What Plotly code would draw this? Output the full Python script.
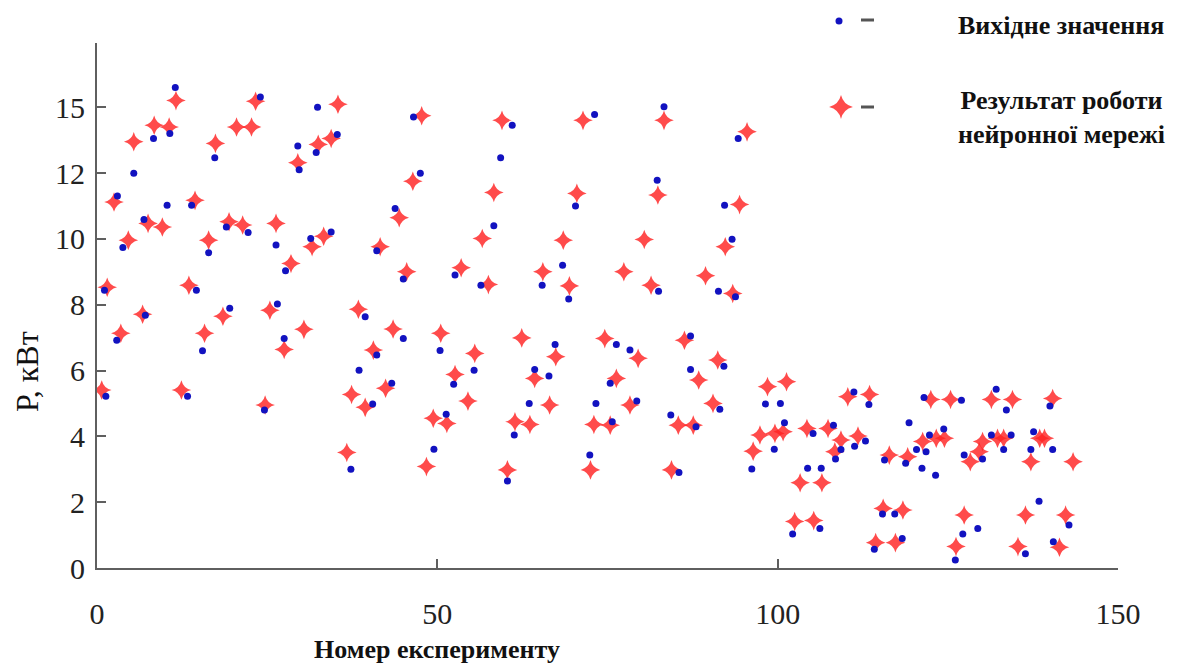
import plotly.graph_objects as go

red_x = [0.7, 1.5, 2.5, 3.5, 4.6, 5.4, 6.7, 7.5, 8.4, 9.6, 10.6, 11.6, 12.4, 13.5, 14.4, 15.8, 16.4, 17.4,
         18.5, 19.4, 20.5, 21.4, 22.7, 23.3, 24.7, 25.4, 26.3, 27.5, 28.5, 29.5, 30.4, 31.6, 32.5, 33.3,
         34.4, 35.4, 36.7, 37.4, 38.4, 39.4, 40.6, 41.6, 42.4, 43.5, 44.4,
         45.5, 46.4, 47.7, 48.4, 49.4, 50.5, 51.4, 52.6, 53.5, 54.5, 55.5, 56.6, 57.5, 58.3, 59.5, 60.3,
         61.4, 62.4, 63.6, 64.3, 65.5, 66.5, 67.4, 68.5, 69.4, 70.5, 71.4, 72.5, 73.0,
         74.6, 75.4, 76.3, 77.4, 78.3, 79.5, 80.4, 81.4, 82.4, 83.3, 84.4, 85.4, 86.3, 87.6, 88.4, 89.4,
         90.5, 91.2, 92.3, 93.4, 94.4, 95.5, 96.4, 97.4,
         98.5, 99.6, 100.8, 101.3, 102.5, 103.3, 104.3, 105.3, 106.5, 107.4, 108.4, 109.3, 110.3, 111.8,
         113.5, 114.4, 115.5, 116.4, 117.3, 118.4, 119.1, 121.3, 122.5, 123.3, 124.5, 125.4, 126.2, 127.4,
         128.3, 129.6, 130.1, 131.4, 132.3, 133.2, 134.5, 135.3, 136.4, 137.2, 138.5, 139.2, 140.4, 141.4,
         142.3, 143.4]
red_y = [5.41, 8.53, 11.12, 7.13, 9.96, 12.95, 7.71, 10.47, 13.45, 10.36, 13.4, 14.2, 5.41, 8.59, 11.17, 7.13,
         9.96, 12.9, 7.65, 10.52, 13.4, 10.42, 13.4, 14.18, 4.95, 7.83, 10.47, 6.64, 9.25, 12.31, 7.25, 9.76,
         12.87, 10.08, 13.05, 14.09, 3.51, 5.27, 7.86, 4.88, 6.62, 9.76, 5.46, 7.26, 10.64,
         9.0, 11.75, 13.74, 3.08, 4.55, 7.13, 4.39, 5.88, 9.12, 5.07, 6.52, 10.01, 8.61, 11.41, 13.6, 2.98,
         4.44, 6.99, 4.36, 5.76, 9.0, 4.95, 6.42, 9.96, 8.57, 11.38, 13.6, 2.98, 4.36,
         6.97, 4.34, 5.76, 9.0, 4.95, 6.37, 9.98, 8.59, 11.33, 13.6, 2.98, 4.34, 6.92, 4.34, 5.71, 8.88,
         5.0, 6.32, 9.76, 8.34, 11.04, 13.25, 3.55, 4.04,
         5.51, 4.09, 4.14, 5.66, 1.41, 2.59, 4.24, 1.44, 2.59, 4.24, 3.53, 3.89, 5.2, 4.01,
         5.27, 0.77, 1.81, 3.43, 0.77, 1.76, 3.38, 3.84, 5.12, 3.94, 3.94, 5.12, 0.65, 1.61,
         3.23, 3.53, 3.84, 5.12, 3.94, 3.94, 5.12, 0.65, 1.61, 3.23, 3.94, 3.94, 5.15, 0.63,
         1.61, 3.23]

blue_x = [1.1, 1.3, 3.0, 2.9, 3.8, 5.4, 7.1, 6.9, 8.3, 10.3, 10.7, 11.5, 13.3, 14.6, 13.9, 15.5, 16.4, 17.3,
          19.5, 19.0, 22.2, 24.0, 24.6, 26.5, 26.3, 27.5, 27.7, 29.5, 29.7, 32.4, 32.2, 31.4, 35.3, 34.4,
          37.3, 38.5, 39.4, 40.5, 41.1, 41.1, 43.3, 43.8,
          45.0, 45.0, 46.5, 47.5, 49.5, 50.4, 51.3, 52.4, 52.6, 55.4, 56.4, 58.3, 59.3, 60.3, 61.0, 61.3,
          63.5, 64.3, 65.4, 66.4, 67.3, 68.4, 69.3, 70.3, 72.4, 73.1, 73.3,
          83.3, 94.2, 82.3, 92.2, 93.3, 82.5, 91.3, 93.8, 76.3, 78.3, 87.2, 92.1, 75.4, 87.2, 79.3, 91.5,
          98.2, 75.7, 84.3, 88.0, 99.5, 96.2, 85.5,
          100.4, 111.2, 113.4, 121.5, 101.0, 119.3, 105.2, 108.2, 109.3, 108.5, 111.3, 112.9, 115.7, 118.8,
          120.4, 121.8, 121.2, 123.2, 122.3, 104.4, 106.4, 117.2, 115.4, 102.2, 106.2, 114.2, 118.3,
          127.0, 132.1, 133.6, 140.0, 124.4, 131.4, 134.3, 137.6, 133.2, 137.2, 140.4, 127.4, 130.1, 138.4,
          142.8, 129.4, 127.2, 140.5, 136.4, 126.1]
blue_y = [8.44, 5.22, 11.3, 6.92, 9.74, 11.99, 7.68, 10.59, 13.05, 11.02, 13.2, 14.6, 5.22, 8.44, 11.02, 6.6,
          9.58, 12.46, 7.89, 10.36, 10.19, 14.31, 4.8, 8.02, 9.81, 6.97, 9.03, 12.82, 12.1, 14.0, 12.62, 10.01,
          13.17, 10.21, 3.0, 6.01, 7.63, 4.98, 6.47, 9.64, 5.61, 10.92,
          6.97, 8.78, 13.7, 11.99, 3.61, 6.61, 4.67, 5.58, 8.9, 6.01, 8.59, 10.4, 12.46, 2.64, 13.45, 4.04,
          5.0, 6.03, 8.59, 5.83, 6.79, 9.2, 8.17, 11.0, 3.43, 13.78, 5.0,
          14.01, 13.05, 11.78, 11.02, 9.99, 8.41, 8.41, 8.24, 6.79, 6.62, 7.05, 6.13, 5.61, 6.03, 5.07, 4.82,
          4.98, 4.44, 4.65, 4.29, 3.61, 3.01, 2.9,
          5.0, 5.35, 4.97, 5.18, 4.41, 4.41, 4.09, 4.34, 3.6, 3.31, 3.7, 3.86, 3.28, 3.18,
          3.6, 3.53, 3.03, 2.82, 4.04, 3.03, 3.03, 1.64, 1.64, 1.03, 1.2, 0.57, 0.9,
          5.1, 5.43, 4.8, 4.92, 4.22, 4.04, 4.04, 4.14, 3.6, 3.6, 3.6, 3.43, 3.31, 2.03,
          1.31, 1.2, 1.03, 0.8, 0.43, 0.24]

y_tick_vals = [0, 2, 4, 6, 8, 10, 12, 14, 15.95]
y_tick_text = ["0", "2", "4", "6", "8", "10", "12", "15", ""]
x_tick_vals = [0, 50, 100, 150]
x_tick_text = ["0", "50", "100", "150"]

series_names = ["Вихідне значення", "Результат роботи<br>нейронної мережі"]
x_title = "Номер експерименту"
y_title = "Р, кВт"

RED = "rgba(255,35,35,0.82)"
BLUE = "#1212c0"
AXIS = "#5f5f5f"
SERIF = "Liberation Serif, Times New Roman, serif"
W, H = 1186, 664

fig = go.Figure()
fig.add_trace(go.Scatter(x=red_x, y=red_y, mode="markers", showlegend=False,
                         marker=dict(symbol="star-diamond", size=14, color=RED, line=dict(width=0))))
fig.add_trace(go.Scatter(x=blue_x, y=blue_y, mode="markers", showlegend=False,
                         marker=dict(symbol="circle", size=7, color=BLUE, line=dict(width=0))))

# manual legend drawn on a full-page overlay axis measured in pixels
fig.add_trace(go.Scatter(x=[839], y=[21], mode="markers", xaxis="x2", yaxis="y2", showlegend=False,
                         cliponaxis=False, marker=dict(symbol="circle", size=7, color=BLUE)))
fig.add_trace(go.Scatter(x=[841], y=[107], mode="markers", xaxis="x2", yaxis="y2", showlegend=False,
                         cliponaxis=False,
                         marker=dict(symbol="star-diamond", size=17, color=RED)))

axis_line = dict(showline=True, linecolor=AXIS, linewidth=2, ticks="inside", ticklen=9,
                 tickcolor=AXIS, tickwidth=2, showgrid=False, zeroline=False, automargin=False,
                 tickfont=dict(family=SERIF, size=30, color="#222"))

px = dict(xref="x2", yref="y2", showarrow=False, xanchor="center", yanchor="middle")

fig.update_layout(
    width=W, height=H,
    margin=dict(l=0, r=0, t=0, b=0, autoexpand=False),
    paper_bgcolor="white", plot_bgcolor="rgba(0,0,0,0)",
    xaxis=dict(domain=[97 / W, 1118 / W], range=[0, 150], tickvals=x_tick_vals, ticktext=x_tick_text,
               ticklabelstandoff=18, anchor="y", **axis_line),
    yaxis=dict(domain=[(H - 568) / H, (H - 43) / H], range=[0, 15.95], tickvals=y_tick_vals,
               ticktext=y_tick_text, ticklabelstandoff=4, anchor="x", **axis_line),
    xaxis2=dict(domain=[0, 1], range=[0, W], visible=False, anchor="y2", automargin=False),
    yaxis2=dict(domain=[0, 1], range=[H, 0], visible=False, anchor="x2", automargin=False),
    shapes=[
        dict(type="line", xref="x2", yref="y2", x0=861, x1=874, y0=20, y1=20,
             line=dict(color="#555", width=3)),
        dict(type="line", xref="x2", yref="y2", x0=861, x1=874, y0=107, y1=107,
             line=dict(color="#555", width=3)),
    ],
    annotations=[
        dict(text="<b>" + x_title + "</b>", x=437, y=649, font=dict(family=SERIF, size=26, color="#111"),
             **px),
        dict(text=y_title, x=27, y=372, textangle=-90, font=dict(family=SERIF, size=32, color="#111"), **px),
        dict(text="<b>" + series_names[0] + "</b>", x=1061, y=25,
             font=dict(family=SERIF, size=26, color="#111"), **px),
        dict(text="<b>" + series_names[1] + "</b>", x=1061, y=117, align="center",
             font=dict(family=SERIF, size=26, color="#111"), **px),
    ],
)

fig.write_html("out.html")
